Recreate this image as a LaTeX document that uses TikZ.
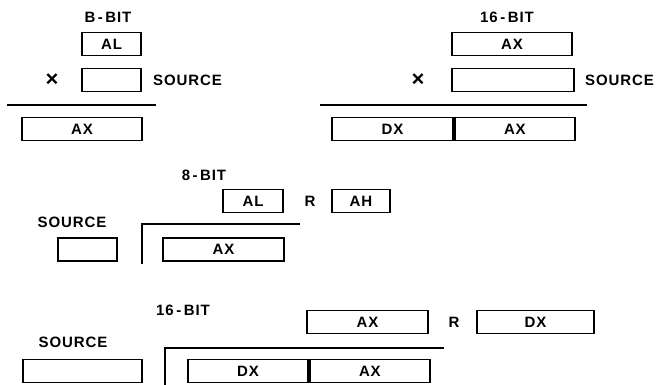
\documentclass[tikz,border=0pt]{standalone}
\usepackage{fontspec}
\setmainfont{Liberation Sans}[LetterSpace=6]
\begin{document}
\begin{tikzpicture}[x=1pt,y=-1pt,
  every node/.style={font=\fontsize{15}{17}\selectfont\bfseries, inner sep=0pt},
  reg/.style={draw, line width=1.9pt, minimum height=23pt},
  times/.style={font=\fontsize{22}{24}\selectfont\bfseries},
  rule/.style={line width=1.9pt}]
\useasboundingbox (0,0) rectangle (657,384);
% ---- top left: 8-bit multiply
\node (lblA) at (108,17) {B\,-\,BIT};
\node[reg, minimum width=59pt] (alA) at (111.5,44) {AL};
\node[reg, minimum width=59pt] (srcA) at (111.5,80) {};
\node[times] (xA) at (52,80) {×};
\node[anchor=west] (srclA) at (153,80) {SOURCE};
\coordinate (lA1) at (7,105); \coordinate (lA2) at (156,105);
\draw[rule] (lA1) -- (lA2);
\node[reg, minimum width=120pt] (axA) at (82,129) {AX};
% ---- top right: 16-bit multiply
\node (lblB) at (507,17) {16\,-\,BIT};
\node[reg, minimum width=120pt] (axB) at (512,44) {AX};
\node[reg, minimum width=122pt] (srcB) at (513,80) {};
\node[times] (xB) at (418,80) {×};
\node[anchor=west] (srclB) at (585,80) {SOURCE};
\coordinate (lB1) at (320,105); \coordinate (lB2) at (587,105);
\draw[rule] (lB1) -- (lB2);
\node[reg, minimum width=121pt] (dxB) at (392.5,129) {DX};
\node[reg, minimum width=120pt, anchor=west] (axB2) at (dxB.east) {AX};
% ---- middle: 8-bit divide
\node (lblC) at (204,175) {8\,-\,BIT};
\node[reg, minimum width=60pt] (alC) at (253,201) {AL};
\node (rC) at (310,201) {R};
\node[reg, minimum width=58pt] (ahC) at (361,201) {AH};
\node (srclC) at (72,222) {SOURCE};
\node[reg, minimum width=59pt] (srcC) at (87.5,249.5) {};
\coordinate (bC1) at (142,264); \coordinate (bC2) at (142,224); \coordinate (bC3) at (300,224);
\draw[rule] (bC1) -- (bC2) -- (bC3);
\node[reg, minimum width=121pt] (axC) at (223.5,249.5) {AX};
% ---- bottom: 16-bit divide
\node (lblD) at (183,310) {16\,-\,BIT};
\node[reg, minimum width=121pt] (axD) at (367.5,322) {AX};
\node (rD) at (454,322) {R};
\node[reg, minimum width=117pt] (dxD) at (535.5,322) {DX};
\node (srclD) at (73,342) {SOURCE};
\node[reg, minimum width=119pt] (srcD) at (82.5,371) {};
\coordinate (bD1) at (165,386); \coordinate (bD2) at (165,348); \coordinate (bD3) at (444,348);
\draw[rule] (bD1) -- (bD2) -- (bD3);
\node[reg, minimum width=120pt] (dxD2) at (248,371) {DX};
\node[reg, minimum width=120pt, anchor=west] (axD2) at (dxD2.east) {AX};
\end{tikzpicture}
\end{document}
